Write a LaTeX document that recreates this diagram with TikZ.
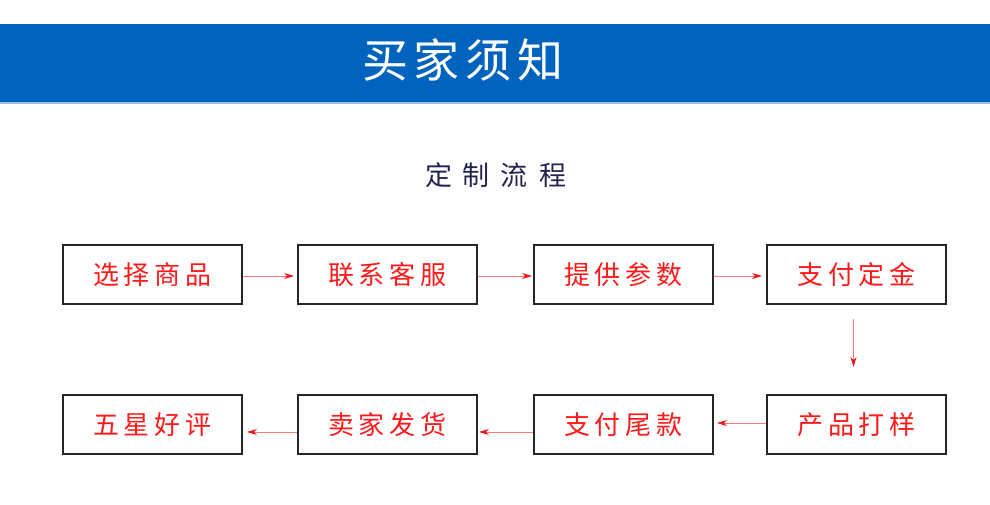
\documentclass[tikz,border=0pt]{standalone}
\usepackage{fontspec}
\newfontfamily\cjk{Noto Sans CJK SC}
\usetikzlibrary{arrows.meta}
\definecolor{band}{RGB}{0,100,190}
\definecolor{bandline}{RGB}{150,190,230}
\definecolor{boxred}{RGB}{255,25,25}
\definecolor{titlec}{RGB}{35,35,80}
\definecolor{arrowred}{RGB}{255,120,120}
\definecolor{headred}{RGB}{240,20,20}
\newcommand\ks{\kern5pt}
\begin{document}
\begin{tikzpicture}[x=1pt,y=-1pt,
  stepbox/.style={draw=black!85,line width=2pt,minimum width=179pt,minimum height=59pt,
    inner sep=0pt,text=boxred,font=\cjk\fontsize{26}{26}\selectfont},
  flow/.style={draw=arrowred,line width=0.8pt,
    -{Stealth[length=10pt,width=6pt,color=headred]}}]
\useasboundingbox (0,0) rectangle (990,505);
\fill[band] (0,24) rectangle (990,102);
\fill[bandline] (0,102) rectangle (990,104);
\node[text=white,font=\cjk\fontsize{46}{46}\selectfont,inner sep=0pt] (hdr) at (463,59.5)
  {买\kern6pt 家\kern6pt 须\kern6pt 知};
\node[text=titlec,font=\cjk\fontsize{27}{27}\selectfont,inner sep=0pt] (ttl) at (495.5,175.5)
  {定\kern11pt 制\kern11pt 流\kern11pt 程};
\node[stepbox] (b1) at (152.5,274.5) {选\ks 择\ks 商\ks 品};
\node[stepbox] (b2) at (387.5,274.5) {联\ks 系\ks 客\ks 服};
\node[stepbox] (b3) at (623.5,274.5) {提\ks 供\ks 参\ks 数};
\node[stepbox] (b4) at (856.5,274.5) {支\ks 付\ks 定\ks 金};
\node[stepbox] (b5) at (856.5,424.5) {产\ks 品\ks 打\ks 样};
\node[stepbox] (b6) at (623.5,424.5) {支\ks 付\ks 尾\ks 款};
\node[stepbox] (b7) at (387.5,424.5) {卖\ks 家\ks 发\ks 货};
\node[stepbox] (b8) at (152.5,424.5) {五\ks 星\ks 好\ks 评};
\draw[flow,shorten >=3pt] ([yshift=-1.5pt]b1.east) -- ([yshift=-1.5pt]b2.west);
\draw[flow,shorten >=1pt] ([yshift=-1.5pt]b2.east) -- ([yshift=-1.5pt]b3.west);
\draw[flow,shorten >=4pt] ([yshift=-1.5pt]b3.east) -- ([yshift=-1.5pt]b4.west);
\draw[flow] ([xshift=-3pt,yshift=-14pt]b4.south) -- ([xshift=-3pt,yshift=27pt]b5.north);
\draw[flow,shorten >=3pt] ([yshift=1.5pt]b5.west) -- ([yshift=1.5pt]b6.east);
\draw[flow,shorten >=1pt] ([yshift=-7.5pt]b6.west) -- ([yshift=-7.5pt]b7.east);
\draw[flow,shorten >=4pt] ([yshift=-7.5pt]b7.west) -- ([yshift=-7.5pt]b8.east);
\end{tikzpicture}
\end{document}
